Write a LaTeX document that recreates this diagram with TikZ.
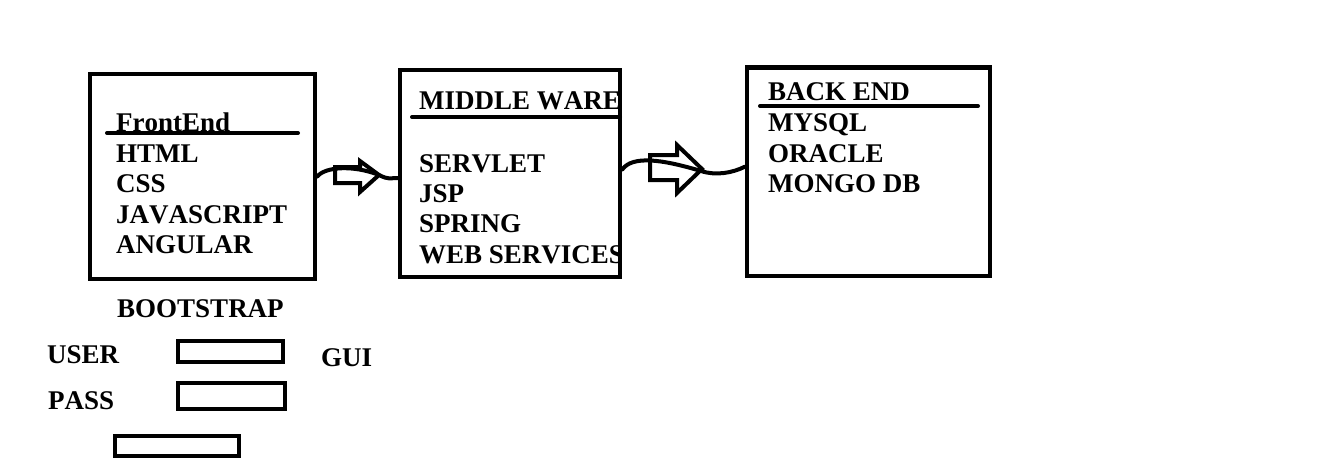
\documentclass[tikz,border=0pt]{standalone}
\usepackage{fontspec}
\setmainfont[Kerning=Off]{Liberation Serif}
\begin{document}
\begin{tikzpicture}[x=1pt,y=-1pt,
  lbl/.style={anchor=base west,inner sep=0pt,font=\fontsize{27}{30}\selectfont\bfseries},
  frame/.style={draw,line width=4.5pt,inner sep=0pt},
  field/.style={draw,line width=4pt,inner sep=0pt},
  uline/.style={line width=4pt,line cap=round},
  wave/.style={line width=4pt,line cap=round},
  barrow/.style={line width=4pt,line join=miter}]
\useasboundingbox (0,0) rectangle (1325,460);
% texts of front end
\node[lbl] (fe) at (116,131) {FrontEnd};
\node[lbl] (fe1) at (116,162) {HTML};
\node[lbl] (fe2) at (116,192) {CSS};
\node[lbl] (fe3) at (116,223) {JAVASCRIPT};
\node[lbl] (fe4) at (116,253) {ANGULAR};
\draw[uline] (107,133) -- (298,133);
% middle ware texts, clipped by the box
\begin{scope}
\clip (400,70) rectangle (620,277);
\node[lbl] (mw) at (419,110) {MIDDLE WARE};
\node[lbl] (mw1) at (419,172) {SERVLET};
\node[lbl] (mw2) at (419,202) {JSP};
\node[lbl] (mw3) at (419,232) {SPRING};
\node[lbl] (mw4) at (419,263) {WEB SERVICES};
\end{scope}
\draw[uline] (412,117) -- (620,117);
% back end texts
\node[lbl] (be) at (768,100) {BACK END};
\node[lbl] (be1) at (768,131) {MYSQL};
\node[lbl] (be2) at (768,162) {ORACLE};
\node[lbl] (be3) at (768,192) {MONGO DB};
\draw[uline] (760,106) -- (978,106);
% boxes
\node[frame,minimum width=225pt,minimum height=205pt] (front) at (202.5,176.5) {};
\node[frame,minimum width=220pt,minimum height=207pt] (mid) at (510,173.5) {};
\node[frame,minimum width=243pt,minimum height=208.5pt] (back) at (868.5,171.75) {};
% connectors
\coordinate (t1) at (379,175);
\draw[wave] (front.east) .. controls +(8,-10) and +(-25,-10) .. (t1)
  .. controls +(10,5) and +(-8,0) .. ([yshift=-4.5pt]mid.west);
\draw[barrow] (335,167) -- (360,167) -- (360,161) -- (379,175) -- (360,192) -- (360,183) -- (335,183) -- cycle;
\coordinate (t2) at (701,171);
\draw[wave] ([yshift=4pt]mid.east) .. controls +(10,-14) and +(-40,-12) .. (t2)
  .. controls +(15,5) and +(-12,6) .. ([yshift=5pt]back.west);
\draw[barrow] (650,155) -- (677,155) -- (677,145) -- (702,169) -- (677,193) -- (677,180) -- (650,180) -- cycle;
% bottom GUI part
\node[lbl] (bs) at (117,317) {BOOTSTRAP};
\node[lbl] (us) at (47,363) {USER};
\node[lbl] (ps) at (48,409) {PASS};
\node[lbl] (gui) at (321,366) {GUI};
\node[field,minimum width=105pt,minimum height=21pt] (f1) at (230.5,351.5) {};
\node[field,minimum width=107pt,minimum height=26pt] (f2) at (231.5,396) {};
\node[field,minimum width=124pt,minimum height=20pt] (f3) at (177,446) {};
\end{tikzpicture}
\end{document}
